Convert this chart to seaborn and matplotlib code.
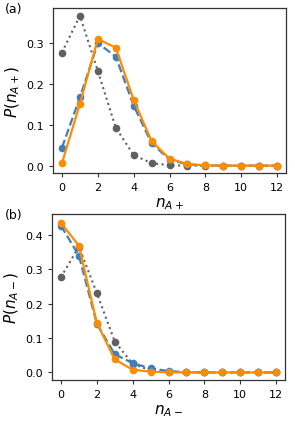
import numpy as np
import pandas as pd
import matplotlib
matplotlib.use("Agg")
import matplotlib.pyplot as plt
import seaborn as sns

n = list(range(13))
# panel (a): P(n_A+)
a_gray   = [0.277, 0.367, 0.232, 0.093, 0.026, 0.006, 0.001, 0.0, 0.0, 0.0, 0.0, 0.0, 0.0]
a_blue   = [0.044, 0.167, 0.300, 0.267, 0.147, 0.055, 0.015, 0.003, 0.0005, 0.0, 0.0, 0.0, 0.0]
a_orange = [0.006, 0.151, 0.310, 0.289, 0.161, 0.060, 0.017, 0.004, 0.0005, 0.0, 0.0, 0.0, 0.0]
# panel (b): P(n_A-)
b_gray   = [0.277, 0.366, 0.231, 0.090, 0.025, 0.006, 0.001, 0.0, 0.0, 0.0, 0.0, 0.0, 0.0]
b_blue   = [0.427, 0.340, 0.142, 0.053, 0.027, 0.012, 0.004, 0.001, 0.0, 0.0, 0.0, 0.0, 0.0]
b_orange = [0.435, 0.369, 0.144, 0.038, 0.008, 0.002, 0.0005, 0.0, 0.0, 0.0, 0.0, 0.0, 0.0]

xticks = [0, 2, 4, 6, 8, 10, 12]

fig = plt.figure(figsize=(2.95, 4.27), dpi=100)
ax1 = fig.add_axes([53/295, 1-174/427, 233/295, 165/427])
ax2 = fig.add_axes([52/295, 1-381/427, 233/295, 166/427])

gray = "#606060"
blue = "#3f7fbf"
orange = "#ff8c00"

def draw(ax, g, b, o, xlabel, ylabel, ylim, yticks):
    df = pd.DataFrame({"n": n, "g": g, "b": b, "o": o})
    sns.lineplot(data=df, x="n", y="g", ax=ax, color=gray, linestyle=":", linewidth=1.5,
                 marker="o", markersize=5.5, markeredgewidth=0, zorder=1)
    sns.lineplot(data=df, x="n", y="b", ax=ax, color=blue, linestyle="--", linewidth=1.6,
                 marker="o", markersize=5.5, markeredgewidth=0, zorder=2)
    sns.lineplot(data=df, x="n", y="o", ax=ax, color=orange, linestyle="-", linewidth=1.6,
                 marker="o", markersize=5.5, markeredgewidth=0, zorder=3)
    ax.set_xlim(-0.5, 12.5)
    ax.set_ylim(*ylim)
    ax.set_xticks(xticks)
    ax.set_yticks(yticks)
    ax.tick_params(labelsize=8, length=3, width=0.8, color="#333333")
    ax.set_xlabel(xlabel, fontsize=11, labelpad=2)
    ax.set_ylabel(ylabel, fontsize=11, labelpad=3)
    for s in ax.spines.values():
        s.set_color("#333333")
        s.set_linewidth(0.9)

draw(ax1, a_gray, a_blue, a_orange, r"$n_{A+}$", r"$P(n_{A+})$", (-0.018, 0.386), [0.0, 0.1, 0.2, 0.3])
draw(ax2, b_gray, b_blue, b_orange, r"$n_{A-}$", r"$P(n_{A-})$", (-0.022, 0.461), [0.0, 0.1, 0.2, 0.3, 0.4])

fig.text(5/295, 1-10/427, "(a)", fontsize=9, va="center", ha="left")
fig.text(5/295, 1-216/427, "(b)", fontsize=9, va="center", ha="left")

fig.savefig("out.png", dpi=100)
